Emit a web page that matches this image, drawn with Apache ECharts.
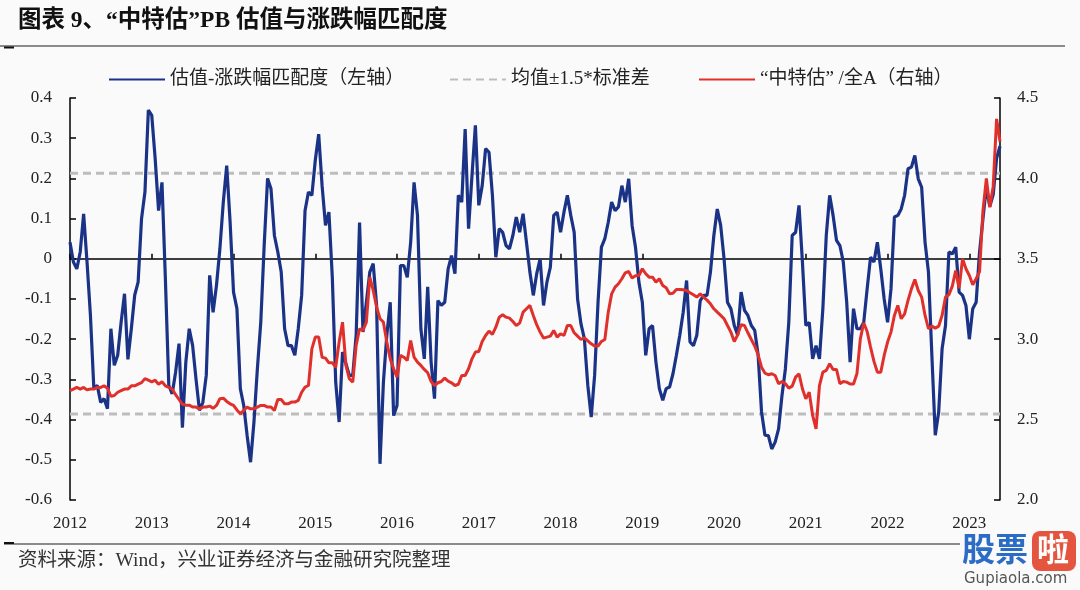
<!DOCTYPE html>
<html><head><meta charset="utf-8">
<script src="https://cdn.jsdelivr.net/npm/echarts@6/dist/echarts.min.js"></script>
<style>html,body{margin:0;padding:0;background:#fafafa}#c{width:1080px;height:590px}</style>
</head><body><div id="c"></div>
<script>
// half-monthly observation dates, 2012-01 .. 2023-05
const dates = [];
for (let y = 2012; y <= 2023; y++) for (let m = 1; m <= 12; m++) for (const d of ['01', '16']) {
  if (dates.length < 274) dates.push(y + '-' + String(m).padStart(2, '0') + '-' + d);
}
const seriesNames = ['估值-涨跌幅匹配度（左轴）', '均值±1.5*标准差', '“中特估” /全A（右轴）'];
// left axis: valuation vs. price-change match degree
const matchDegree = [
0.041,-0.008,-0.025,0.017,0.112,-0.008,-0.141,-0.323,-0.315,-0.357,-0.348,-0.373,-0.174,-0.265,-0.24,-0.158,-0.087,-0.25,-0.174,-0.09,
-0.058,0.1,0.166,0.37,0.357,0.249,0.12,0.19,-0.05,-0.315,-0.336,-0.282,-0.211,-0.42,-0.257,-0.174,-0.216,-0.3,-0.377,-0.357,
-0.29,-0.041,-0.133,-0.066,0.025,0.141,0.232,0.091,-0.083,-0.124,-0.323,-0.365,-0.44,-0.506,-0.406,-0.274,-0.158,0.033,0.2,0.174,
0.058,0.017,-0.033,-0.174,-0.216,-0.216,-0.24,-0.174,-0.091,0.12,0.166,0.158,0.245,0.31,0.182,0.083,0.116,-0.046,-0.307,-0.406,
-0.232,-0.261,-0.29,-0.29,-0.19,0.09,-0.182,-0.108,-0.033,-0.012,-0.116,-0.51,-0.307,-0.19,-0.108,-0.39,-0.365,-0.017,-0.017,-0.046,
0.041,0.19,0.108,-0.174,-0.249,-0.07,-0.257,-0.348,-0.104,-0.116,-0.108,-0.025,0.008,-0.037,0.158,0.141,0.323,0.075,0.207,0.332,
0.133,0.182,0.274,0.265,0.158,0.004,0.075,0.066,0.033,0.025,0.058,0.104,0.066,0.112,0.041,-0.033,-0.091,-0.037,0,-0.116,
-0.058,-0.021,0.108,0.116,0.066,0.116,0.158,0.108,0.066,-0.1,-0.162,-0.199,-0.315,-0.394,-0.29,-0.108,0.029,0.05,0.091,0.141,
0.12,0.129,0.182,0.141,0.199,0.083,0.029,-0.058,-0.108,-0.24,-0.174,-0.166,-0.257,-0.323,-0.352,-0.323,-0.319,-0.286,-0.24,-0.19,
-0.133,-0.054,-0.207,-0.216,-0.19,-0.104,-0.091,-0.091,-0.033,0.058,0.124,0.083,0,-0.108,-0.124,-0.166,-0.19,-0.083,-0.128,-0.141,
-0.166,-0.178,-0.24,-0.381,-0.439,-0.44,-0.473,-0.456,-0.423,-0.34,-0.274,-0.158,0.058,0.066,0.133,-0.008,-0.166,-0.158,-0.249,-0.216,
-0.249,-0.124,0.058,0.158,0.108,0.046,0.033,-0.008,-0.108,-0.257,-0.124,-0.174,-0.174,-0.158,-0.075,0.004,-0.008,0.041,-0.025,-0.1,
-0.158,-0.075,0.104,0.108,0.124,0.158,0.224,0.228,0.257,0.199,0.178,0.041,-0.033,-0.24,-0.439,-0.381,-0.224,-0.166,0.017,0.012,
0.029,-0.083,-0.091,-0.116,-0.2,-0.124,-0.108,0.017,0.1,0.18,0.13,0.16,0.25,0.28
];
// right axis: "中特估"/全A PB ratio
const ztgRatio = [
2.68,2.69,2.70,2.69,2.70,2.685,2.69,2.69,2.70,2.70,2.71,2.695,2.645,2.65,2.67,2.68,2.69,2.69,2.71,2.71,
2.72,2.73,2.755,2.745,2.735,2.745,2.72,2.735,2.71,2.70,2.69,2.655,2.625,2.595,2.59,2.59,2.578,2.578,2.567,2.578,
2.578,2.584,2.57,2.588,2.63,2.633,2.613,2.598,2.588,2.56,2.536,2.557,2.578,2.567,2.567,2.578,2.588,2.588,2.578,2.578,
2.557,2.625,2.625,2.598,2.598,2.609,2.609,2.62,2.67,2.702,2.712,2.94,3.013,3.013,2.888,2.882,2.853,2.853,2.826,2.982,
3.106,2.837,2.754,2.733,2.961,3.065,3.054,3.106,3.386,3.303,3.2,3.127,3.106,2.982,2.878,2.816,2.764,2.899,2.888,2.868,
2.992,2.888,2.857,2.837,2.812,2.791,2.737,2.712,2.729,2.737,2.758,2.739,2.729,2.712,2.72,2.774,2.774,2.816,2.878,2.92,
2.924,2.986,3.023,3.05,3.03,3.075,3.137,3.152,3.137,3.131,3.11,3.085,3.1,3.168,3.189,3.21,3.148,3.09,3.044,3.007,
3.013,3.019,3.054,3.013,3.034,3.023,3.085,3.085,3.04,3.019,2.998,3.009,2.99,2.971,2.957,2.957,2.986,2.998,3.168,3.282,
3.324,3.345,3.376,3.413,3.421,3.38,3.394,3.396,3.438,3.407,3.386,3.386,3.355,3.376,3.334,3.32,3.282,3.286,3.309,3.309,
3.307,3.303,3.289,3.276,3.262,3.282,3.262,3.243,3.22,3.189,3.168,3.148,3.127,3.085,3.044,2.986,3.027,3.09,3.085,3.04,
2.998,2.957,2.903,2.826,2.789,2.779,2.785,2.774,2.723,2.737,2.723,2.696,2.708,2.764,2.785,2.692,2.629,2.671,2.526,2.443,
2.712,2.795,2.806,2.847,2.812,2.812,2.723,2.737,2.733,2.721,2.721,2.785,3.002,3.102,3.048,2.951,2.862,2.795,2.795,2.899,
2.982,3.044,3.148,3.21,3.127,3.158,3.241,3.313,3.371,3.303,3.262,3.148,3.065,3.081,3.069,3.081,3.148,3.262,3.276,3.33,
3.427,3.317,3.5,3.438,3.396,3.338,3.376,3.42,3.8,4.0,3.82,3.95,4.37,4.23
];
// mean ± 1.5 standard deviation of the match degree
const bandLevels = [0.213, -0.386];

const SERIF = "'Liberation Serif','Noto Sans CJK SC',serif";
const chart = echarts.init(document.getElementById('c'), null, {renderer: 'canvas'});
const isYear = (i) => i % 24 === 0;
const legendBase = {top: 65, itemWidth: 56, itemHeight: 14, itemGap: 0,
  itemStyle: {opacity: 0, borderWidth: 0},
  textStyle: {fontSize: 19, fontFamily: SERIF, color: '#222'}, selectedMode: false};
const lastDate = dates[dates.length - 1];
chart.setOption({
  animation: false,
  backgroundColor: '#fafafa',
  grid: {left: 70, right: 80, top: 98, bottom: 90, containLabel: false, outerBoundsMode: 'none'},
  legend: [
    Object.assign({}, legendBase, {left: 103, data: [seriesNames[0]]}),
    Object.assign({}, legendBase, {left: 444, data: [seriesNames[1]]}),
    Object.assign({}, legendBase, {left: 693, data: [seriesNames[2]]})
  ],
  xAxis: [
    {type: 'category', data: dates, boundaryGap: false,
     axisLine: {onZero: true, lineStyle: {color: '#000', width: 1.5}},
     axisTick: {inside: true, length: 5, interval: isYear, lineStyle: {color: '#000', width: 1.5}},
     axisLabel: {show: false}, splitLine: {show: false}},
    {type: 'category', data: dates, boundaryGap: false, position: 'bottom',
     axisLine: {show: false, onZero: false}, axisTick: {show: false},
     axisLabel: {interval: isYear, formatter: (v) => v.slice(0, 4), margin: 15,
       fontSize: 17, fontFamily: SERIF, color: '#222'},
     splitLine: {show: false}}
  ],
  yAxis: [
    {type: 'value', min: -0.6, max: 0.4, interval: 0.1, position: 'left',
     axisLine: {show: true, onZero: false, lineStyle: {color: '#000', width: 1.5}},
     axisTick: {show: true, inside: true, length: 6, lineStyle: {color: '#000', width: 1.5}},
     axisLabel: {margin: 18, fontSize: 17, fontFamily: SERIF, color: '#222',
       formatter: (v) => Math.abs(v) < 1e-9 ? '0' : v.toFixed(1)},
     splitLine: {show: false}},
    {type: 'value', min: 2.0, max: 4.5, interval: 0.5, position: 'right',
     axisLine: {show: true, onZero: false, lineStyle: {color: '#000', width: 1.5}},
     axisTick: {show: true, inside: true, length: 6, lineStyle: {color: '#000', width: 1.5}},
     axisLabel: {margin: 17, fontSize: 17, fontFamily: SERIF, color: '#222',
       formatter: (v) => v.toFixed(1)},
     splitLine: {show: false}}
  ],
  series: [
    {name: seriesNames[1], type: 'line', yAxisIndex: 0, symbol: 'none', showSymbol: false,
     lineStyle: {color: '#bdbdbd', width: 3, type: [8, 5]}, itemStyle: {color: '#bdbdbd'},
     data: [[dates[0], bandLevels[0]], [lastDate, bandLevels[0]]], z: 1},
    {name: seriesNames[1], type: 'line', yAxisIndex: 0, symbol: 'none', showSymbol: false,
     lineStyle: {color: '#bdbdbd', width: 3, type: [8, 5]}, itemStyle: {color: '#bdbdbd'},
     data: [[dates[0], bandLevels[1]], [lastDate, bandLevels[1]]], z: 1},
    {name: seriesNames[0], type: 'line', yAxisIndex: 0, symbol: 'none', showSymbol: false,
     lineStyle: {color: '#1b3387', width: 3.2}, itemStyle: {color: '#1b3387'},
     data: matchDegree, z: 3},
    {name: seriesNames[2], type: 'line', yAxisIndex: 1, symbol: 'none', showSymbol: false,
     lineStyle: {color: '#e0302c', width: 3}, itemStyle: {color: '#e0302c'},
     data: ztgRatio, z: 4}
  ],
  graphic: [
    {type: 'text', left: 18, top: 9, style: {text: '图表 9、“中特估”PB 估值与涨跌幅匹配度',
      font: "bold 23.5px 'Liberation Serif','Noto Sans CJK SC',serif", fill: '#111'}},
    {type: 'line', shape: {x1: 0, y1: 46, x2: 1065, y2: 46}, style: {stroke: '#666', lineWidth: 1.5}},
    {type: 'line', shape: {x1: 4, y1: 47.5, x2: 14, y2: 47.5}, style: {stroke: '#111', lineWidth: 2}},
    {type: 'line', shape: {x1: 4, y1: 544, x2: 960, y2: 544}, style: {stroke: '#666', lineWidth: 1.5}},
    {type: 'line', shape: {x1: 4, y1: 543, x2: 14, y2: 543}, style: {stroke: '#111', lineWidth: 2}},
    {type: 'text', left: 18, top: 551, style: {text: '资料来源：Wind，兴业证券经济与金融研究院整理',
      font: "19.5px 'Liberation Serif','Noto Sans CJK SC',serif", fill: '#333'}},
    {type: 'text', left: 962, top: 532, style: {text: '股票',
      font: "bold 33px 'Noto Sans CJK SC',sans-serif", fill: '#2b6cc4'}},
    {type: 'rect', shape: {x: 1032, y: 531, width: 44, height: 40, r: 8}, style: {fill: '#e4553f'}},
    {type: 'text', left: 1037, top: 533, style: {text: '啦',
      font: "bold 32px 'Noto Sans CJK SC',sans-serif", fill: '#fff'}},
    {type: 'text', left: 964, top: 572, style: {text: 'Gupiaola.com',
      font: "15px 'DejaVu Sans',sans-serif", fill: '#555'}}
  ]
});
</script></body></html>
